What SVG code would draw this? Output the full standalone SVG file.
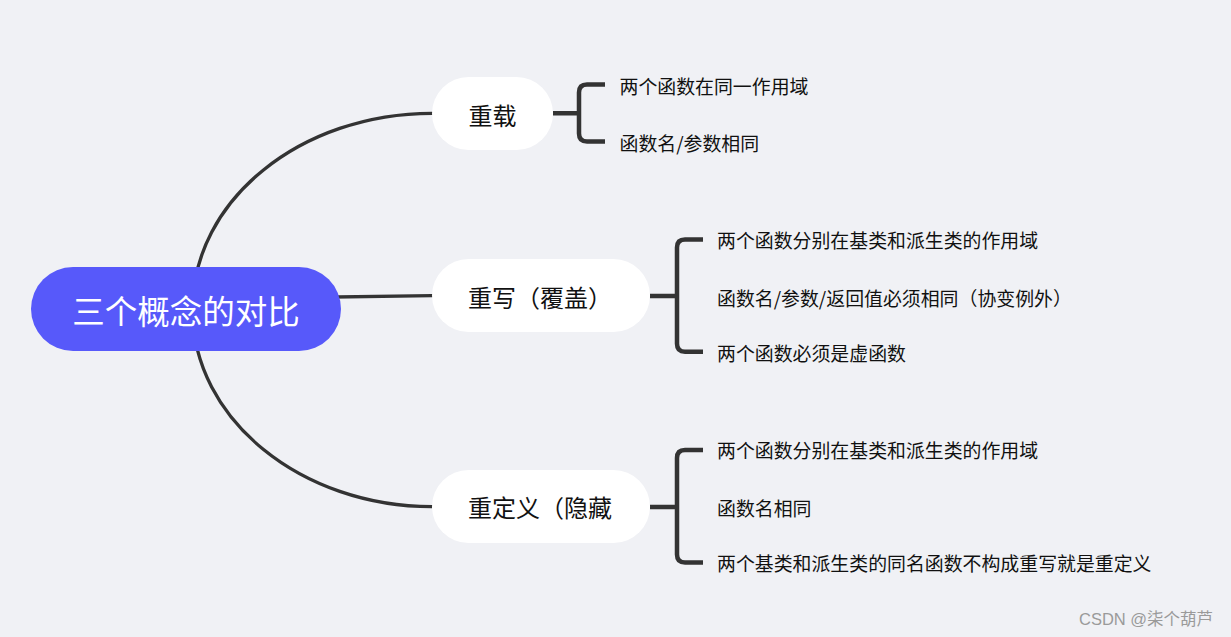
<svg xmlns="http://www.w3.org/2000/svg" width="1231" height="637" viewBox="0 0 1231 637">
<style>
.t{font-family:"Noto Sans CJK SC","Noto Sans",sans-serif;}
.main{fill:none;stroke:#333333;stroke-width:3.3;stroke-linecap:round;}
.br{fill:none;stroke:#333333;stroke-width:4.5;}
.sub{fill:#ffffff;}
.lbl{font-size:24px;fill:#111111;}
.leaf{font-size:18.9px;fill:#111111;}
</style>
<rect x="0" y="0" width="1231" height="637" fill="#F0F1F5"/>
<g id="connectors">
<path class="main" d="M192.5 309.5 C192.5 199,302 113.3,432 113.3"/>
<path class="main" d="M300 297.5 L432 295.7"/>
<path class="main" d="M192.5 309.5 C192.5 420,302 506.7,432 506.7"/>
<path class="br" d="M553 113.3 L579 113.3 M605 84.5 L587 84.5 Q579 84.5 579 92.5 L579 133.5 Q579 141.5 587 141.5 L605 141.5"/>
<path class="br" d="M650 296 L677 296 M703 239.5 L685 239.5 Q677 239.5 677 247.5 L677 343.7 Q677 351.7 685 351.7 L703 351.7"/>
<path class="br" d="M650 507 L677 507 M703 450 L685 450 Q677 450 677 458 L677 554.5 Q677 562.5 685 562.5 L703 562.5"/>
</g>
<g id="root">
<rect x="31" y="267" width="310" height="84" rx="42" fill="#5759FA"/>
<text class="t" x="186" y="324" font-size="32.5" fill="#ffffff" text-anchor="middle">三个概念的对比</text>
</g>
<g id="n1">
<rect class="sub" x="432" y="77" width="121" height="73" rx="36.5"/>
<text class="t lbl" x="492.5" y="124.5" text-anchor="middle">重载</text>
</g>
<g id="n1a"><text class="t leaf" x="619.5" y="94">两个函数在同一作用域</text></g>
<g id="n1b"><text class="t leaf" x="619.5" y="150.5">函数名/参数相同</text></g>
<g id="n2">
<rect class="sub" x="432" y="259" width="218" height="73" rx="36.5"/>
<text class="t lbl" x="468" y="307">重写（覆盖）</text>
</g>
<g id="n2a"><text class="t leaf" x="717" y="248">两个函数分别在基类和派生类的作用域</text></g>
<g id="n2b"><text class="t leaf" x="717" y="305.5">函数名/参数/返回值必须相同（协变例外）</text></g>
<g id="n2c"><text class="t leaf" x="717" y="361">两个函数必须是虚函数</text></g>
<g id="n3">
<rect class="sub" x="432" y="470" width="218" height="73" rx="36.5"/>
<text class="t lbl" x="468" y="517">重定义（隐藏</text>
</g>
<g id="n3a"><text class="t leaf" x="717" y="458">两个函数分别在基类和派生类的作用域</text></g>
<g id="n3b"><text class="t leaf" x="717" y="515.5">函数名相同</text></g>
<g id="n3c"><text class="t leaf" x="717" y="571">两个基类和派生类的同名函数不构成重写就是重定义</text></g>
<text font-family="'Liberation Sans','Noto Sans CJK SC',sans-serif" x="1079" y="625" font-size="16.5" fill="#9a9a9a">CSDN @柒个葫芦</text>
</svg>
